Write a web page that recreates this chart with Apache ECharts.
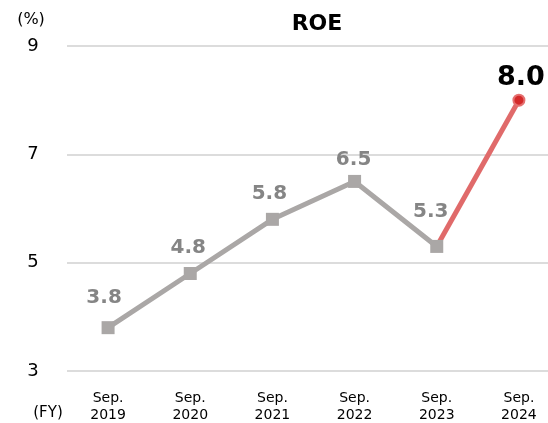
<!DOCTYPE html>
<html>
<head>
<meta charset="utf-8">
<style>
  html, body { margin: 0; padding: 0; background: #fff; }
  #main { width: 548px; height: 423px; }
</style>
</head>
<body>
<div id="main"></div>
<script src="https://cdn.jsdelivr.net/npm/echarts@6/dist/echarts.min.js"></script>
<script>
// 数据
var years = ['Sep.\n2019', 'Sep.\n2020', 'Sep.\n2021', 'Sep.\n2022', 'Sep.\n2023', 'Sep.\n2024'];
var roePast = [3.8, 4.8, 5.8, 6.5, 5.3, null];
var roeLatest = [null, null, null, null, 5.3, 8.0];
var yTicks = [3, 5, 7, 9];
// 数值标签的偏移（样式）
var pastLabelOffset = [[-4, -30], [-2, -26], [-3, -26], [-1, -22], [-6, -35]];
var latestLabelOffset = [2, -22];

var font = "'DejaVu Sans', Verdana, sans-serif";
var myChart = echarts.init(document.getElementById('main'));

var option = {
    animation: false,
    title: {
        text: 'ROE',
        left: 312,
        top: 8,
        textAlign: 'center',
        textStyle: { fontFamily: font, fontSize: 22, fontWeight: 'bold', color: '#000' }
    },
    graphic: [
        { type: 'text', x: 31, y: 20, style: { text: '(%)', fontFamily: font, fontSize: 16, fill: '#000', align: 'center', verticalAlign: 'middle' } },
        { type: 'text', x: 48, y: 413, style: { text: '(FY)', fontFamily: font, fontSize: 15, fill: '#000', align: 'center', verticalAlign: 'middle' } }
    ],
    grid: { left: 67, right: -12, top: 46, bottom: 52, outerBoundsMode: 'none' },
    xAxis: {
        type: 'category',
        data: years,
        boundaryGap: true,
        axisLine: { show: false },
        axisTick: { show: false },
        axisLabel: { fontFamily: font, fontSize: 14, color: '#000', margin: 19, lineHeight: 17 }
    },
    yAxis: {
        type: 'value',
        min: yTicks[0],
        max: yTicks[yTicks.length - 1],
        interval: 2,
        axisLine: { show: false },
        axisTick: { show: false },
        splitLine: { lineStyle: { color: '#dcdcdc', width: 2 } },
        axisLabel: { fontFamily: font, fontSize: 18, color: '#000', margin: 34, align: 'center' }
    },
    series: [
        {
            name: 'latest',
            type: 'line',
            z: 2,
            data: roeLatest.map(function (v, i) {
                if (i === 5) return { value: v, symbol: 'circle', symbolSize: 11 };
                return { value: v, symbol: 'none' };
            }),
            lineStyle: { color: '#e06a6a', width: 5 },
            itemStyle: { color: '#d42a2a', borderColor: '#e57070', borderWidth: 2 },
            label: {
                show: true,
                position: 'inside',
                offset: latestLabelOffset,
                fontFamily: font,
                fontSize: 27,
                fontWeight: 'bold',
                color: '#000',
                formatter: function (p) { return p.dataIndex === 5 ? p.value.toFixed(1) : ''; }
            }
        },
        {
            name: 'past',
            type: 'line',
            z: 3,
            data: roePast.map(function (v, i) {
                return { value: v, label: { offset: pastLabelOffset[i] || [0, 0] } };
            }),
            symbol: 'rect',
            symbolSize: 13,
            lineStyle: { color: '#aaa7a6', width: 5 },
            itemStyle: { color: '#aaa7a6' },
            label: {
                show: true,
                position: 'inside',
                fontFamily: font,
                fontSize: 20,
                fontWeight: 'bold',
                color: '#858585',
                formatter: function (p) { return p.value.toFixed(1); }
            }
        }
    ]
};

myChart.setOption(option);
</script>
</body>
</html>
